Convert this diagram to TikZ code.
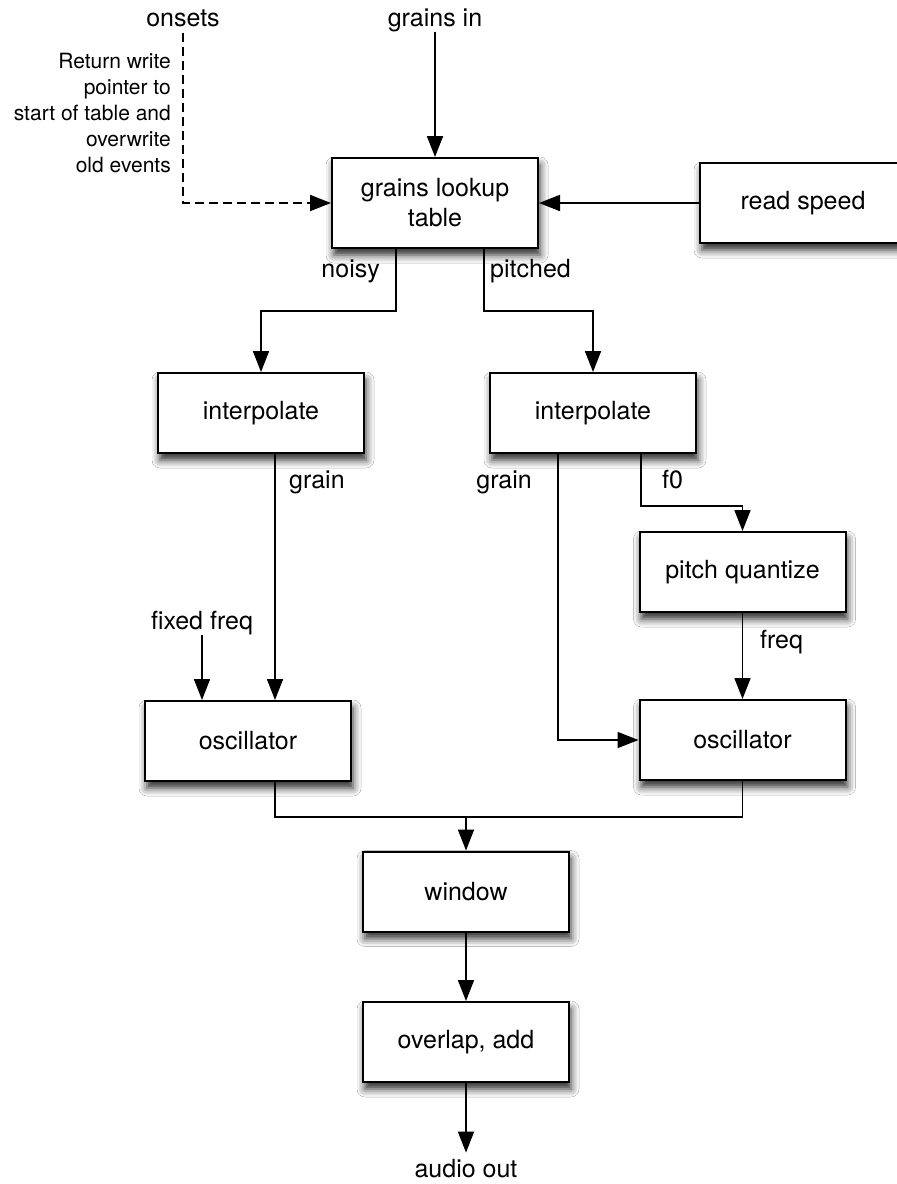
\documentclass[tikz,border=0pt]{standalone}
\usepackage{fontspec}
\setmainfont{TeX Gyre Heros}
\usetikzlibrary{arrows.meta,shadows.blur}
\begin{document}
\begin{tikzpicture}[x=1pt,y=-1pt,
  block/.style={draw=black, line width=2pt, fill=white, minimum width=206pt,
    minimum height=80pt, inner sep=0pt, align=center,
    font=\fontsize{25}{30}\selectfont,
    blur shadow={shadow xshift=2pt, shadow yshift=-7pt, shadow blur radius=8pt, shadow opacity=85}},
  lbl/.style={inner sep=0pt, font=\fontsize{25}{30}\selectfont},
  note/.style={inner sep=0pt, align=right, font=\fontsize{21}{26}\selectfont},
  wire/.style={line width=1.8pt},
  arr/.style={wire, -{Triangle[length=21pt,width=16pt]}},
  dashwire/.style={arr, dash pattern=on 9pt off 5pt},
]
% canvas
\path[fill=white] (0,0) rectangle (897,1184);
\useasboundingbox (0,0) rectangle (897,1184);

% processing blocks
\node[block, minimum height=90pt] (glt) at (435,203) {grains lookup\\table};
\node[block] (rs)   at (803,203)    {read speed};
\node[block] (intL) at (261,413)    {interpolate};
\node[block] (intR) at (593,413)    {interpolate};
\node[block] (pq)   at (742.5,572)  {pitch quantize};
\node[block] (oscL) at (248,741)    {oscillator};
\node[block] (oscR) at (742.5,740)  {oscillator};
\node[block] (win)  at (466,891.5)  {window};
\node[block] (ola)  at (466,1042)   {overlap, add};

% inputs, outputs and signal labels
\node[lbl, anchor=base] (onsets)   at (183,26)   {onsets};
\node[lbl, anchor=base] (grainsin) at (435,26)   {grains in};
\node[lbl, anchor=base] (audio)    at (466,1177) {audio out};
\node[lbl, anchor=base] (fixed)    at (202,629)  {fixed freq};
\node[lbl, anchor=base east] (noisyl)   at (380,277) {noisy};
\node[lbl, anchor=base west] (pitchedl) at (490,277) {pitched};
\node[lbl, anchor=base west] (grainLl)  at (289,488) {grain};
\node[lbl, anchor=base east] (grainRl)  at (532,488) {grain};
\node[lbl, anchor=base west] (f0l)      at (662,488) {f0};
\node[lbl, anchor=base west] (freql)    at (760,648) {freq};
\node[note, anchor=north east] (notel) at (171,53)
  {Return write\\pointer to\\start of table and\\overwrite\\old events};

% wire columns and rows
\coordinate (xNoisy)   at (396,0);
\coordinate (xPitched) at (484,0);
\coordinate (xGrainL)  at (275,0);
\coordinate (xGrainR)  at (558,0);
\coordinate (xF0)      at (641,0);
\coordinate (xMix)     at (466,0);
\coordinate (ySplit)   at (0,311);
\coordinate (yF0)      at (0,506);
\coordinate (yMerge)   at (0,817);

% connectors
\draw[arr] (grainsin.south) -- (grainsin.south |- glt.north);
\draw[dashwire] ([yshift=-6pt]onsets.south) |- (glt.west);
\draw[arr] (rs.west) -- (glt.east);
\draw[arr] (glt.south -| xNoisy) -- (xNoisy |- ySplit) -| (intL.north);
\draw[arr] (glt.south -| xPitched) -- (xPitched |- ySplit) -| (intR.north);
\draw[arr] (intL.south -| xGrainL) -- (oscL.north -| xGrainL);
\draw[arr] (intR.south -| xGrainR) |- (oscR.west);
\draw[arr] (intR.south -| xF0) -- (xF0 |- yF0) -| (pq.north);
\draw[arr] (pq.south) -- (oscR.north);
\draw[arr] (fixed.south) -- (fixed.south |- oscL.north);
\draw[wire] (oscL.south -| xGrainL) |- (yMerge -| oscR.south) -- (oscR.south);
\draw[arr] (xMix |- yMerge) -- (win.north);
\draw[arr] (win.south) -- (ola.north);
\draw[arr] (ola.south) -- ([yshift=6pt]audio.north);
\end{tikzpicture}
\end{document}
